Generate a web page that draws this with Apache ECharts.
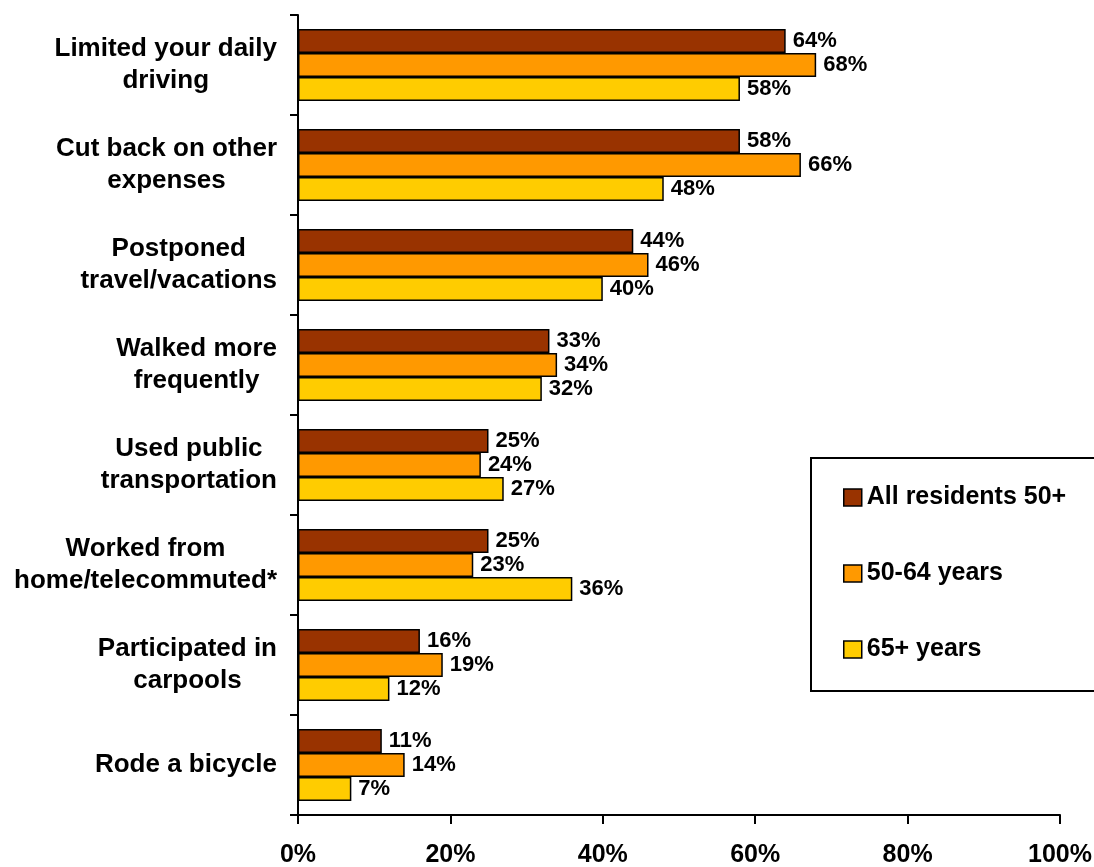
<!DOCTYPE html>
<html>
<head>
<meta charset="utf-8">
<script src="https://cdn.jsdelivr.net/npm/echarts@6/dist/echarts.min.js"></script>
<style>
html,body{margin:0;padding:0;background:#fff;}
#chart{width:1094px;height:867px;}
</style>
</head>
<body>
<div id="chart"></div>
<script>
var categories = [
  'Limited your daily\ndriving',
  'Cut back on other\nexpenses',
  'Postponed\ntravel/vacations',
  'Walked more\nfrequently',
  'Used public\ntransportation',
  'Worked from\nhome/telecommuted*',
  'Participated in\ncarpools',
  'Rode a bicycle'
];
var seriesNames = ['All residents 50+', '50-64 years', '65+ years'];
var allResidents = [64, 58, 44, 33, 25, 25, 16, 11];
var age50to64 = [68, 66, 46, 34, 24, 23, 19, 14];
var age65plus = [58, 48, 40, 32, 27, 36, 12, 7];
var xTicks = [0, 20, 40, 60, 80, 100];

var FONT = '"Liberation Sans", Arial, sans-serif';
var colors = ['#993300', '#FF9900', '#FFCC00'];
var values = [allResidents, age50to64, age65plus];

var chart = echarts.init(document.getElementById('chart'));

var series = seriesNames.map(function (name, i) {
  return {
    name: name,
    type: 'bar',
    data: values[i],
    barGap: '0%',
    barCategoryGap: '28%',
    itemStyle: { color: colors[i], borderColor: '#000', borderWidth: 1.5 },
    label: {
      show: true,
      position: 'right',
      distance: 7,
      formatter: '{c}%',
      color: '#000',
      fontFamily: FONT,
      fontWeight: 'bold',
      fontSize: 22
    },
    emphasis: { disabled: true }
  };
});

chart.setOption({
  animation: false,
  backgroundColor: '#fff',
  grid: { left: 298, right: 34, top: 15, bottom: 52, containLabel: false, outerBoundsMode: 'none' },
  legend: {
    orient: 'vertical',
    left: 811,
    top: 458,
    padding: [27, 40, 29, 32],
    itemGap: 51,
    itemWidth: 18,
    itemHeight: 17,
    icon: 'rect',
    itemStyle: { borderColor: '#000', borderWidth: 1.5 },
    borderColor: '#000',
    borderWidth: 2,
    textStyle: { fontFamily: FONT, fontWeight: 'bold', fontSize: 25, color: '#000' },
    data: seriesNames
  },
  xAxis: {
    type: 'value',
    min: xTicks[0],
    max: xTicks[xTicks.length - 1],
    interval: xTicks[1] - xTicks[0],
    axisLine: { show: true, lineStyle: { color: '#000', width: 2 } },
    axisTick: { show: true, length: 9, lineStyle: { color: '#000', width: 2 } },
    splitLine: { show: false },
    axisLabel: {
      formatter: '{value}%',
      margin: 28,
      color: '#000',
      fontFamily: FONT,
      fontWeight: 'bold',
      fontSize: 25
    }
  },
  yAxis: {
    type: 'category',
    inverse: true,
    data: categories,
    axisLine: { show: true, lineStyle: { color: '#000', width: 2 } },
    axisTick: { show: true, length: 8, alignWithLabel: false, lineStyle: { color: '#000', width: 2 } },
    axisLabel: {
      margin: 21,
      align: 'right',
      color: '#000',
      formatter: function (v) {
        return v.split('\n').map(function (l) { return '{c|' + l + '}'; }).join('\n');
      },
      rich: {
        c: { align: 'center', fontFamily: FONT, fontWeight: 'bold', fontSize: 26, lineHeight: 32, color: '#000' }
      }
    }
  },
  series: series
});
</script>
</body>
</html>
